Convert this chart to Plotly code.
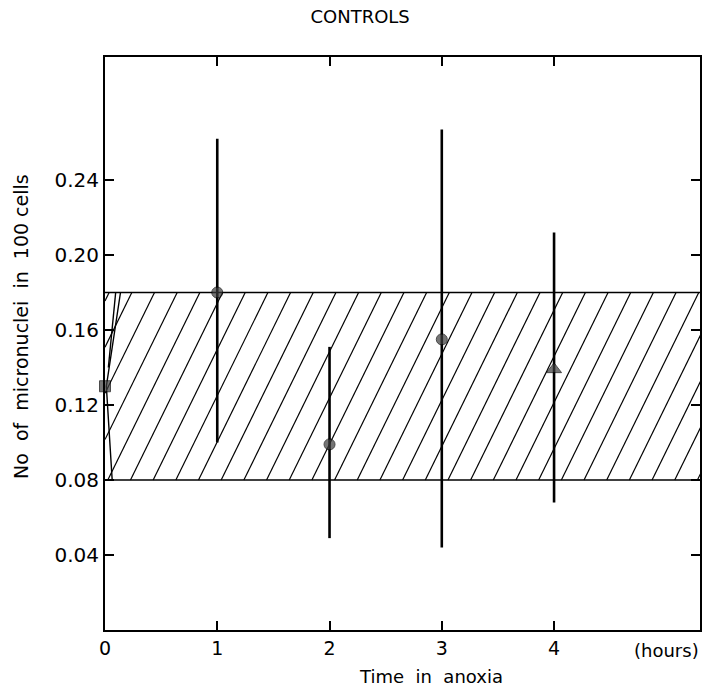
import numpy as np
import plotly.graph_objects as go

# Micronuclei counts per 100 cells against time in anoxia (controls)
hours = [0, 1, 2, 3, 4]
mean_counts = [0.130, 0.180, 0.099, 0.155, 0.139]
upper_limits = [0.130, 0.262, 0.151, 0.267, 0.212]
lower_limits = [0.130, 0.100, 0.049, 0.044, 0.068]
marker_symbols = ["square", "circle", "circle", "circle", "triangle-up"]

# Control range band
band_low = 0.08
band_high = 0.18

y_tick_values = [0.04, 0.08, 0.12, 0.16, 0.20, 0.24]
y_tick_labels = ["0.04", "0.08", "0.12", "0.16", "0.20", "0.24"]
x_tick_values = [0, 1, 2, 3, 4]
x_tick_labels = ["0", "1", "2", "3", "4"]

X_MAX = 5.3
Y_MAX = 0.3056
FONT = "DejaVu Sans"

fig = go.Figure()

# Band edges
for level in (band_low, band_high):
    fig.add_trace(go.Scatter(x=[0, X_MAX + 0.2], y=[level, level], mode="lines",
                             line=dict(color="black", width=1.6),
                             hoverinfo="skip", showlegend=False))

# Diagonal hatching across the band (clipped by the plot area)
run = 0.82
step = 0.202
starts = np.arange(0.025 - 5 * step, X_MAX + step, step)
hx, hy = [], []
for s in starts:
    x0, x1 = s, s + run
    y0, y1 = band_low, band_high
    if x0 < 0:
        y0 = band_low + (0 - x0) / run * (band_high - band_low)
        x0 = 0
    if x1 <= 0:
        continue
    hx += [x0, x1, None]
    hy += [y0, y1, None]
fig.add_trace(go.Scatter(x=hx, y=hy, mode="lines",
                         line=dict(color="black", width=1.2),
                         hoverinfo="skip", showlegend=False))

# Curved left edge of the band near t = 0
edge_x = [0.064, 0.012, 0.138, None, 0.03, 0.095]
edge_y = [band_low, mean_counts[0], band_high, None, 0.14, band_high]
fig.add_trace(go.Scatter(x=edge_x, y=edge_y, mode="lines",
                         line=dict(color="black", width=1.4),
                         hoverinfo="skip", showlegend=False))

# Means with vertical range bars
err_plus = [u - m for u, m in zip(upper_limits, mean_counts)]
err_minus = [m - l for m, l in zip(mean_counts, lower_limits)]
fig.add_trace(go.Scatter(
    x=hours, y=mean_counts, mode="markers",
    marker=dict(symbol=marker_symbols, size=[11, 11, 11, 11, 13],
                color="#3c3c3c", line=dict(color="black", width=1)),
    error_y=dict(type="data", symmetric=False, array=err_plus,
                 arrayminus=err_minus, color="black", thickness=2.6, width=0),
    cliponaxis=False, showlegend=False))

fig.update_xaxes(range=[0, X_MAX], tickvals=x_tick_values, ticktext=x_tick_labels,
                 ticks="inside", ticklen=9, tickwidth=2, tickcolor="black",
                 showline=True, linecolor="black", linewidth=2, mirror="ticks",
                 showgrid=False, zeroline=False,
                 tickfont=dict(family=FONT, size=19, color="black"))
fig.update_yaxes(range=[0, Y_MAX], tickvals=y_tick_values, ticktext=y_tick_labels,
                 ticks="inside", ticklen=9, tickwidth=2, tickcolor="black",
                 showline=True, linecolor="black", linewidth=2, mirror="ticks",
                 showgrid=False, zeroline=False,
                 tickfont=dict(family=FONT, size=20, color="black"))

fig.add_annotation(text="(hours)", x=5.0, xref="x", y=0, yref="paper",
                   yanchor="top", yshift=-8, showarrow=False,
                   font=dict(family=FONT, size=18, color="black"))
fig.add_annotation(text="Time  in  anoxia", x=2.9, xref="x", y=0, yref="paper",
                   yanchor="top", yshift=-34, showarrow=False,
                   font=dict(family=FONT, size=18, color="black"))
fig.add_annotation(text="No  of  micronuclei  in  100 cells", textangle=-90,
                   x=-0.14, xref="paper", y=0.53, yref="paper",
                   xanchor="center", yanchor="middle", showarrow=False,
                   font=dict(family=FONT, size=19, color="black"))

fig.update_layout(
    width=702, height=695,
    margin=dict(l=105, r=0, t=57, b=65),
    paper_bgcolor="white", plot_bgcolor="white",
    title=dict(text="CONTROLS", x=0.513, xref="container", xanchor="center",
               y=0.985, yref="container", yanchor="top",
               font=dict(family=FONT, size=18, color="black")),
)

fig.write_html("out.html")
